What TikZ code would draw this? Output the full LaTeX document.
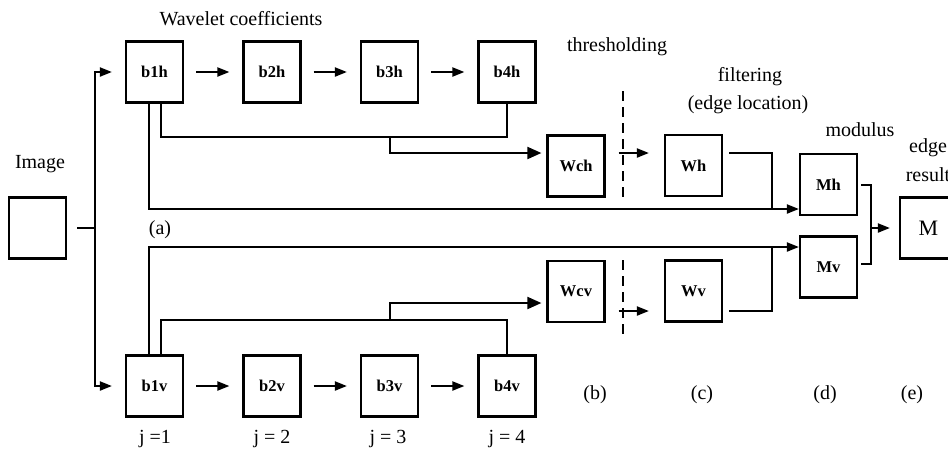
\documentclass[tikz,border=0pt]{standalone}
\usepackage{fontspec}
\setmainfont{Liberation Serif}
\usetikzlibrary{arrows.meta,calc}
\begin{document}
\begin{tikzpicture}[x=1pt,y=-1pt,
  line width=2pt,
  box/.style={draw,line width=2.2pt,minimum width=57pt,minimum height=61pt,inner sep=0pt,
              font=\fontsize{16.5}{18}\selectfont\bfseries},
  lbl/.style={font=\fontsize{20}{22}\selectfont,inner sep=0pt},
  arr/.style={-{Triangle[length=12pt,width=9pt]}},
  bigarr/.style={-{Triangle[length=14pt,width=12pt]}},
  cut/.style={line width=1.6pt,dash pattern=on 10pt off 6pt}]
\fill[white] (0,0) rectangle (948,451);
\useasboundingbox (0,0) rectangle (948,451);
\clip (0,0) rectangle (948,451);

% ---- boxes ----
\node[box] (img) at (37.5,228) {};
\node[box] (b1h) at (154.5,72) {b1h};
\node[box] (b2h) at (272,72) {b2h};
\node[box] (b3h) at (389.5,72) {b3h};
\node[box] (b4h) at (507,72) {b4h};
\node[box] (b1v) at (154.5,386) {b1v};
\node[box] (b2v) at (272,386) {b2v};
\node[box] (b3v) at (389.5,386) {b3v};
\node[box] (b4v) at (507,386) {b4v};
\node[box] (Wch) at (576,166) {Wch};
\node[box] (Wcv) at (576,291.5) {Wcv};
\node[box] (Wh) at (693.5,165.5) {Wh};
\node[box] (Wv) at (693.5,291) {Wv};
\node[box] (Mh) at (828.5,184.5) {Mh};
\node[box] (Mv) at (828.5,267) {Mv};
\node[box,font=\fontsize{22}{24}\selectfont] (M) at (928.5,228) {M};

% ---- labels ----
\node[lbl] (tWav) at (241,19) {Wavelet coefficients};
\node[lbl] (tImg) at (40,164) {Image};
\node[lbl] (tThr) at (617,47) {thresholding};
\node[lbl] (tFil) at (750,77) {filtering};
\node[lbl] (tLoc) at (748,105) {(edge location)};
\node[lbl] (tMod) at (860,130) {modulus};
\node[lbl] (tEdg) at (928,148) {edge};
\node[lbl] (tRes) at (928,175) {result};
\node[lbl] (la) at (160,230) {(a)};
\node[lbl] (lb) at (595,395) {(b)};
\node[lbl] (lc) at (702,395) {(c)};
\node[lbl] (ld) at (825,395) {(d)};
\node[lbl] (le) at (912,395) {(e)};
\node[lbl] (j1) at (155,439) {j =1};
\node[lbl] (j2) at (272,439) {j = 2};
\node[lbl] (j3) at (388,439) {j = 3};
\node[lbl] (j4) at (507,439) {j = 4};

% ---- image split into the two branches ----
\coordinate (split) at (95,228);
\draw ($(img.east)+(10,0)$) -- (split);
\draw[arr] (split) |- ($(b1h.west)+(-13,0)$);
\draw[arr] (split) |- ($(b1v.west)+(-13,0)$);

% ---- scale chains ----
\foreach \a/\b in {b1h/b2h,b2h/b3h,b3h/b4h,b1v/b2v,b2v/b3v,b3v/b4v}
  \draw[arr] ($(\a.east)+(12,0)$) -- ($(\b.west)+(-13,0)$);

% ---- horizontal branch: product of scales ----
\coordinate (hb) at ($(b3h.south)+(0,33)$);
\draw ($(b1h.south)+(6,0)$) |- ($(b4h.south)+(0,33)$) -- (b4h.south);
\draw[bigarr] (hb) |- ($(Wch.west)+(-5,-13)$);
\draw[arr] ($(Wch.east)+(13,-13)$) -- ($(Wh.west)+(-15,-12.5)$);
\coordinate (jh) at (772,209);
\draw ($(Wh.east)+(6,-12.5)$) -| (jh);
\draw[arr] ($(b1h.south)+(-6,0)$) |- ($(Mh.west)+(0,24.5)$);

% ---- vertical branch: product of scales ----
\coordinate (vb) at ($(b3v.north)+(0,-34)$);
\draw ($(b1v.north)+(6,0)$) |- ($(b4v.north)+(0,-34)$) -- (b4v.north);
\draw[bigarr] (vb) |- ($(Wcv.west)+(-5,11.5)$);
\draw[arr] ($(Wcv.east)+(13,19.5)$) -- ($(Wv.west)+(-15,20)$);
\coordinate (jv) at (772,247);
\draw ($(Wv.east)+(6,20)$) -| (jv);
\draw[arr] ($(b1v.north)+(-6,0)$) |- ($(Mv.west)+(0,-20)$);

% ---- threshold cut lines ----
\draw[cut] (623,91) -- (623,197);
\draw[cut] (623,260) -- (623,334);

% ---- modulus to edge result ----
\coordinate (mj) at (871,228);
\draw ($(Mh.east)+(3,0)$) -| (mj) |- ($(Mv.east)+(3,-3)$);
\draw[arr] (mj) -- ($(M.west)+(-9,0)$);
\end{tikzpicture}
\end{document}
